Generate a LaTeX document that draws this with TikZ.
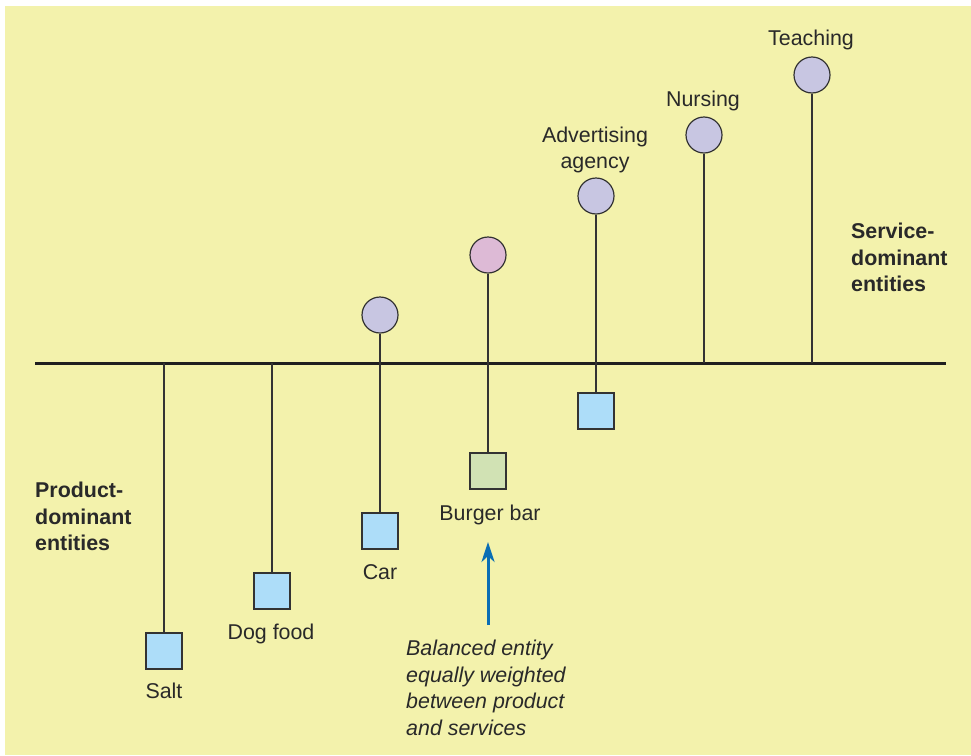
\documentclass[tikz,border=0pt]{standalone}
\usepackage{fontspec}
\setmainfont{Liberation Sans}
\usetikzlibrary{arrows.meta}
\definecolor{paper}{HTML}{F3F2AC}
\definecolor{lilac}{HTML}{C8C6E2}
\definecolor{rose}{HTML}{DDBAD6}
\definecolor{skyfill}{HTML}{ADDDF9}
\definecolor{sage}{HTML}{D1E2B4}
\definecolor{ink}{HTML}{333333}
\definecolor{arrowblue}{HTML}{0A6EB4}
\tikzset{
  x=1pt, y=-1pt,
  every node/.style={font=\fontsize{21.4}{26.5}\selectfont, text=ink!80!black},
  ball/.style={circle, draw=ink, line width=1.2pt, minimum size=36pt, inner sep=0pt},
  box/.style={rectangle, draw=ink, line width=1.2pt, minimum size=36pt, inner sep=0pt},
  stem/.style={draw=ink, line width=1.5pt},
  axisline/.style={draw=ink!60!black, line width=3pt},
  lbl/.style={anchor=base, inner sep=0pt},
  sidetext/.style={anchor=north west, inner sep=0pt, align=left, font=\fontsize{21.4}{26.5}\selectfont\bfseries},
}
\begin{document}
\begin{tikzpicture}
  \useasboundingbox (0,0) rectangle (971,755);
  \fill[paper] (5,6) rectangle (971,755);

  % axis
  \coordinate (axL) at (35,363);
  \coordinate (axR) at (946,363);
  \draw[axisline] (axL) -- (axR);

  % anchor points on the axis
  \coordinate (pSalt) at (164,363);
  \coordinate (pDog) at (272,363);
  \coordinate (pCar) at (380,363);
  \coordinate (pBurger) at (488,363);
  \coordinate (pAdv) at (596,363);
  \coordinate (pNurse) at (704,363);
  \coordinate (pTeach) at (812,363);

  % product squares
  \node[box, fill=skyfill] (sSalt) at (164,651) {};
  \node[box, fill=skyfill] (sDog) at (272,591) {};
  \node[box, fill=skyfill] (sCar) at (380,531) {};
  \node[box, fill=sage] (sBurger) at (488,471) {};
  \node[box, fill=skyfill] (sAdv) at (596,411) {};

  % service circles
  \node[ball, fill=lilac] (cCar) at (380,315) {};
  \node[ball, fill=rose] (cBurger) at (488,255) {};
  \node[ball, fill=lilac] (cAdv) at (596,196) {};
  \node[ball, fill=lilac] (cNurse) at (704,135) {};
  \node[ball, fill=lilac] (cTeach) at (812,75) {};

  % stems
  \draw[stem] (pSalt) -- (sSalt.north);
  \draw[stem] (pDog) -- (sDog.north);
  \draw[stem] (sCar.north) -- (cCar.south);
  \draw[stem] (sBurger.north) -- (cBurger.south);
  \draw[stem] (sAdv.north) -- (cAdv.south);
  \draw[stem] (pNurse) -- (cNurse.south);
  \draw[stem] (pTeach) -- (cTeach.south);

  % labels
  \node[lbl] (tSalt) at (164,698.5) {Salt};
  \node[lbl] (tDog) at (271,639.5) {Dog food};
  \node[lbl] (tCar) at (380,579.5) {Car};
  \node[lbl] (tBurger) at (490,520.5) {Burger bar};
  \node[lbl] (tAdv) at (595,142.5) {Advertising};
  \node[lbl] (tAgency) at (595,168.5) {agency};
  \node[lbl] (tNurse) at (703,106.5) {Nursing};
  \node[lbl] (tTeach) at (811,45.5) {Teaching};

  % side captions
  \node[sidetext] (prodText) at (35,482) {Product-\\dominant\\entities};
  \node[sidetext] (servText) at (851,223) {Service-\\dominant\\entities};

  % balanced entity note
  \node[anchor=north west, inner sep=0pt, align=left, font=\fontsize{21.4}{26.5}\selectfont\itshape] (note) at (406,640) {Balanced entity\\equally weighted\\between product\\and services};
  \coordinate (arrTail) at (488,625);
  \coordinate (arrHead) at (488,542);
  \draw[arrowblue, line width=3pt, -{Stealth[length=20pt, width=13pt, inset=6pt]}] (arrTail) -- (arrHead);
\end{tikzpicture}
\end{document}
